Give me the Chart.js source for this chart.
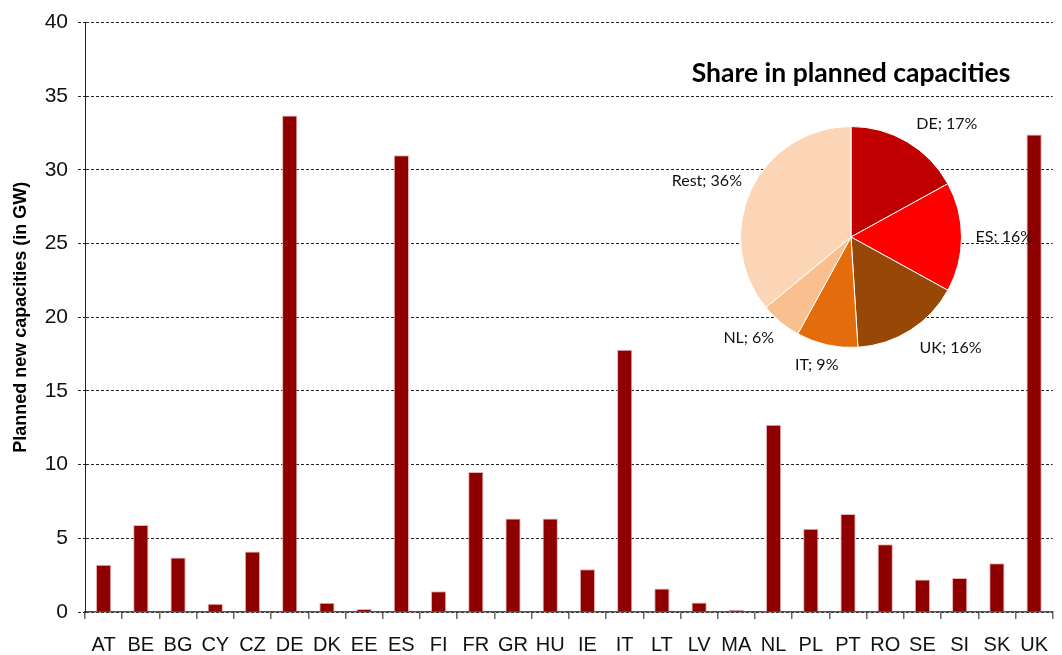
<!DOCTYPE html>
<html>
<head>
<meta charset="utf-8">
<title>Planned new capacities</title>
<script src="https://cdn.jsdelivr.net/npm/chart.js"></script>
<style>
    body { margin: 0; background: #fff; }
    #wrap { position: relative; width: 1062px; height: 655px; }
    #barChart { position: absolute; left: 0; top: 0; }
    #pieChart { position: absolute; left: 651px; top: 50px; }
</style>
</head>
<body>
<div id="wrap">
    <canvas id="barChart" width="1062" height="655"></canvas>
    <canvas id="pieChart" width="400" height="340"></canvas>
</div>
<script>
// bar chart data (GW)
const countries = ["AT","BE","BG","CY","CZ","DE","DK","EE","ES","FI","FR","GR","HU","IE","IT","LT","LV","MA","NL","PL","PT","RO","SE","SI","SK","UK"];
const capacities = [3.2, 5.9, 3.7, 0.56, 4.1, 33.7, 0.63, 0.2, 31.0, 1.4, 9.5, 6.35, 6.35, 2.9, 17.8, 1.6, 0.64, 0.13, 12.7, 5.65, 6.65, 4.6, 2.2, 2.3, 3.3, 32.4];

// pie (share in %)
const pieTitle = "Share in planned capacities";
const shareLabels = ["DE", "ES", "UK", "IT", "NL", "Rest"];
const shareValues = [17, 16, 16, 9, 6, 36];
const shareColors = ["#C00000", "#FF0000", "#974706", "#E46C0A", "#F9BF8F", "#FBD5B5"];

const gridColor = "#222";

new Chart(document.getElementById("barChart"), {
    type: "bar",
    data: {
        labels: countries,
        datasets: [{
            data: capacities,
            backgroundColor: "#8E0000",
            borderColor: "rgba(230,170,170,0.9)",
            borderWidth: { top: 1, left: 1, right: 1, bottom: 0 },
            barPercentage: 0.41,
            categoryPercentage: 1.0
        }]
    },
    options: {
        responsive: false,
        animation: false,
        layout: { padding: { top: 18, right: 0, left: 0, bottom: 0 } },
        plugins: {
            legend: { display: false },
            tooltip: { enabled: false }
        },
        scales: {
            x: {
                grid: {
                    offset: true,
                    drawOnChartArea: false,
                    drawTicks: true,
                    tickLength: 7,
                    color: "#666",
                    lineWidth: 1.5
                },
                border: { color: "#555", width: 1.5 },
                ticks: {
                    color: "#111",
                    font: { family: "'Liberation Sans', Arial, sans-serif", size: 20 },
                    padding: 14,
                    maxRotation: 0,
                    autoSkip: false
                },
                afterFit(scale) { scale.height = 43; }
            },
            y: {
                min: 0,
                max: 40,
                ticks: {
                    stepSize: 5,
                    color: "#111",
                    font: { family: "'Liberation Sans', Arial, sans-serif", size: 21 },
                    padding: 10
                },
                grid: {
                    color: gridColor,
                    lineWidth: 1,
                    tickLength: 7,
                    tickBorderDash: [3, 2],
                    tickColor: gridColor
                },
                border: { dash: [3, 2], color: gridColor, width: 1 },
                title: {
                    display: true,
                    text: "Planned new capacities (in GW)",
                    color: "#000",
                    font: { family: "'Liberation Sans', Arial, sans-serif", size: 18, weight: "bold" },
                    padding: { top: 10, bottom: 0 }
                },
                afterFit(scale) { scale.width = 85; }
            }
        }
    }
});

// title above the pie and "XX; NN%" next to each slice
const pieLabels = {
    id: "pieLabels",
    afterDatasetsDraw(chart) {
        const ctx = chart.ctx;
        const meta = chart.getDatasetMeta(0);
        ctx.save();
        ctx.fillStyle = "#000";
        ctx.textBaseline = "middle";
        ctx.textAlign = "center";
        ctx.font = "bold 26.5px Lato, sans-serif";
        ctx.fillText(pieTitle, chart.width / 2, 23);

        ctx.font = "16px Lato, 'Noto Sans', sans-serif";
        ctx.fillStyle = "#111";
        meta.data.forEach((arc, i) => {
            const p = arc.getProps(["x", "y", "startAngle", "endAngle", "outerRadius"], true);
            const mid = (p.startAngle + p.endAngle) / 2;
            const r = p.outerRadius + 10;
            const c = Math.cos(mid), s = Math.sin(mid);
            let x = p.x + c * r;
            let y = p.y + s * (r + 11);
            if (c > 0.3) { ctx.textAlign = "left"; x += 4; }
            else if (c < -0.3) ctx.textAlign = "right";
            else { ctx.textAlign = "center"; x -= 8; }
            ctx.fillText(shareLabels[i] + "; " + shareValues[i] + "%", x, y);
        });
        ctx.restore();
    }
};

new Chart(document.getElementById("pieChart"), {
    type: "pie",
    data: {
        labels: shareLabels,
        datasets: [{
            data: shareValues,
            backgroundColor: shareColors,
            borderColor: "#fff",
            borderWidth: 1
        }]
    },
    options: {
        responsive: false,
        animation: false,
        layout: { padding: { left: 89, right: 89, top: 76, bottom: 42 } },
        plugins: {
            legend: { display: false },
            tooltip: { enabled: false },
            title: { display: false }
        }
    },
    plugins: [pieLabels]
});
</script>
</body>
</html>
